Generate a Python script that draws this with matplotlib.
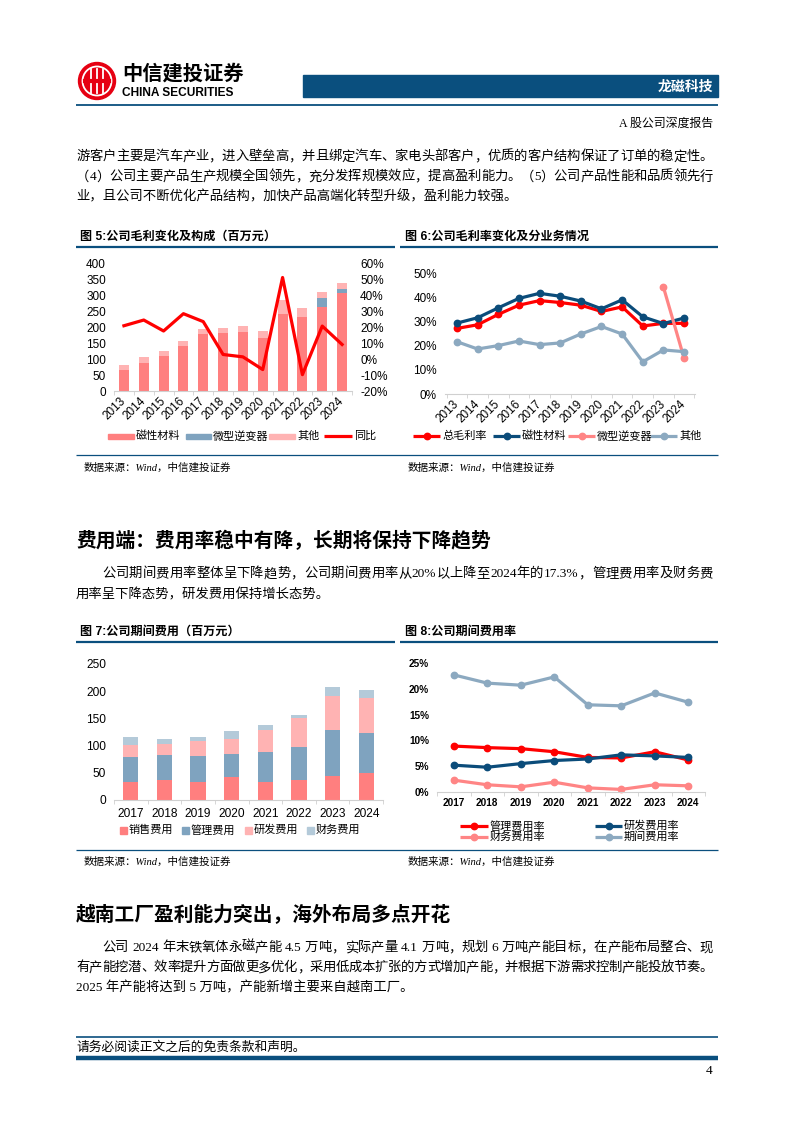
import re
import numpy as np
import matplotlib
matplotlib.use('Agg')
import matplotlib.pyplot as plt
from matplotlib.patches import Rectangle, Circle
from matplotlib.ticker import FixedLocator

# page text / chart data
years_a = [str(y) for y in range(2013, 2025)]
gp_magnet = [65, 88, 110, 141, 179, 183, 185, 166, 242, 232, 264, 308]
gp_inverter = [0, 0, 0, 0, 0, 0, 0, 0, 0, 0, 28, 14]
gp_other = [18, 18, 15, 17, 15, 17, 19, 24, 44, 29, 19, 18]
gp_yoy = [21.1, 24.7, 17.8, 28.7, 23.7, 3.0, 1.5, -6.5, 51.5, -9.7, 20.9, 9.3]

gm_total = [27.1, 28.6, 32.9, 36.7, 38.6, 37.8, 36.7, 34.1, 36.0, 28.1, 29.2, 29.2]
gm_magnet = [29.3, 31.5, 35.6, 39.5, 41.6, 40.4, 38.4, 35.2, 38.9, 31.9, 29.1, 31.4]
gm_inverter = [np.nan] * 10 + [44.2, 14.8]
gm_other = [21.6, 18.6, 20.0, 21.9, 20.4, 21.1, 24.8, 27.9, 24.8, 13.3, 18.2, 17.5]

years_b = [str(y) for y in range(2017, 2025)]
exp_sales = [34, 36, 34, 42, 34, 36, 44, 49]
exp_admin = [45, 46, 47, 42, 54, 61, 85, 74]
exp_rd = [23, 21, 28, 29, 41, 53, 63, 64]
exp_fin = [13, 10, 7, 13, 9, 6, 15, 16]

rate_admin = [8.9, 8.6, 8.4, 7.8, 6.7, 6.6, 7.8, 6.2]
rate_rd = [5.2, 4.8, 5.5, 6.1, 6.4, 7.2, 7.0, 6.7]
rate_fin = [2.3, 1.4, 1.0, 1.9, 0.8, 0.5, 1.4, 1.2]
rate_period = [22.7, 21.1, 20.7, 22.3, 16.9, 16.7, 19.2, 17.4]

para1 = ['游客户主要是汽车产业，进入壁垒高，并且绑定汽车、家电头部客户，优质的客户结构保证了订单的稳定性。',
         '（4）公司主要产品生产规模全国领先，充分发挥规模效应，提高盈利能力。（5）公司产品性能和品质领先行',
         '业，且公司不断优化产品结构，加快产品高端化转型升级，盈利能力较强。']
para2 = ['公司期间费用率整体呈下降趋势，公司期间费用率从20%以上降至2024年的17.3%，管理费用率及财务费',
         '用率呈下降态势，研发费用保持增长态势。']
para3 = ['公司 2024 年末铁氧体永磁产能 4.5 万吨，实际产量 4.1 万吨，规划 6 万吨产能目标，在产能布局整合、现',
         '有产能挖潜、效率提升方面做更多优化，采用低成本扩张的方式增加产能，并根据下游需求控制产能投放节奏。',
         '2025 年产能将达到 5 万吨，产能新增主要来自越南工厂。']

SANS = ['Liberation Sans', 'Noto Sans CJK SC']
SERIF = ['Liberation Serif', 'Noto Sans CJK SC']
plt.rcParams['font.family'] = SANS
plt.rcParams['axes.unicode_minus'] = False

NAVY = '#0A4F7E'
C_MAG = '#FF7F7F'
C_INV = '#7FA3BF'
C_OTH = '#FFB3B3'
C_FIN = '#B4CAD9'
L_RED = '#FF0000'
L_NAVY = '#0B4C7A'
L_PINK = '#FF8585'
L_GREY = '#8CA9C0'

W, H = 794, 1123
fig = plt.figure(figsize=(W / 100, H / 100), dpi=100)
bg = fig.add_axes([0, 0, 1, 1])
bg.set_xlim(0, W)
bg.set_ylim(H, 0)
bg.axis('off')
renderer = fig.canvas.get_renderer()


def px_axes(x0, y0, x1, y1):
    return fig.add_axes([x0 / W, 1 - y1 / H, (x1 - x0) / W, (y1 - y0) / H])


def hline(x0, x1, y, lw, color=NAVY):
    bg.plot([x0, x1], [y, y], color=color, lw=lw, solid_capstyle='butt')


def text_width(s, size, family):
    if s == ' ':
        return size * 100 / 72 * 0.28
    t = bg.text(0, 0, s, fontsize=size, family=family)
    w = t.get_window_extent(renderer).width
    t.remove()
    return w


def body_line(x0, y, s, size=9.6, x1=None, family=SERIF, **kw):
    if x1 is None:
        bg.text(x0, y, s, fontsize=size, family=family, va='center', ha='left', **kw)
        return
    toks = re.findall(r'[A-Za-z0-9.%]+| |.', s)
    ws = [text_width(t, size, family) for t in toks]
    gap = (x1 - x0 - sum(ws)) / (len(toks) - 1)
    x = x0
    for t, w in zip(toks, ws):
        if t != ' ':
            bg.text(x, y, t, fontsize=size, family=family, va='center', ha='left', **kw)
        x += w + gap


def leg_patch(x0, x1, y, h, color, label, tx):
    bg.add_patch(Rectangle((x0, y - h / 2), x1 - x0, h, color=color))
    bg.text(tx, y, label, fontsize=8, va='center', ha='left')


def leg_line(x0, x1, y, color, label, tx, marker=True):
    bg.plot([x0, x1], [y, y], color=color, lw=2.3, solid_capstyle='butt')
    if marker:
        bg.plot([(x0 + x1) / 2], [y], 'o', color=color, ms=4.6)
    bg.text(tx, y, label, fontsize=8, va='center', ha='left')


# ---------- header ----------
bg.add_patch(Circle((97, 81), 18.5, color='#E60012'))
bg.add_patch(Circle((97, 81), 14.5, fill=False, ec='white', lw=1.3))
for dx in (-6, 0, 6):
    bg.plot([97 + dx, 97 + dx], [69, 93], color='white', lw=1.3)
bg.plot([85, 109], [81, 81], color='#E60012', lw=3)
bg.text(122, 74, '中信建投证券', fontsize=14.6, weight='bold', va='center', ha='left')
bg.text(122, 93, 'CHINA SECURITIES', fontsize=8.6, weight='bold', va='center', ha='left')
bg.add_patch(Rectangle((303, 75), 415, 22, color=NAVY))
bg.text(713, 87, '龙磁科技', fontsize=10, weight='bold', color='white', va='center', ha='right')
hline(76, 718, 105, 1.3)
bg.text(713, 124, 'A 股公司深度报告', fontsize=8.6, family=SERIF, va='center', ha='right')

body_line(76, 157, para1[0], x1=713)
body_line(76, 177, para1[1], x1=713)
body_line(76, 197, para1[2])

# ---------- section titles / rules ----------
bg.text(80, 237, '图 5:公司毛利变化及构成（百万元）', fontsize=8.7, weight='bold', va='center')
bg.text(405, 237, '图 6:公司毛利率变化及分业务情况', fontsize=8.7, weight='bold', va='center')
hline(76, 395, 247, 1.6)
hline(400, 718, 247, 1.6)
hline(76, 718, 455, 0.9)
bg.text(84, 468, '数据来源：Wind，中信建投证券', fontsize=7.6, family=SERIF, style='italic', va='center')
bg.text(408, 468, '数据来源：Wind，中信建投证券', fontsize=7.6, family=SERIF, style='italic', va='center')

bg.text(76, 541, '费用端：费用率稳中有降，长期将保持下降趋势', fontsize=14.2, weight='bold',
        family=['Noto Sans CJK SC'], va='center')
body_line(102, 574, para2[0], x1=713)
body_line(76, 595, para2[1])

bg.text(80, 632, '图 7:公司期间费用（百万元）', fontsize=8.7, weight='bold', va='center')
bg.text(405, 632, '图 8:公司期间费用率', fontsize=8.7, weight='bold', va='center')
hline(76, 395, 642, 1.6)
hline(400, 718, 642, 1.6)
hline(76, 718, 850, 0.9)
bg.text(84, 862, '数据来源：Wind，中信建投证券', fontsize=7.6, family=SERIF, style='italic', va='center')
bg.text(408, 862, '数据来源：Wind，中信建投证券', fontsize=7.6, family=SERIF, style='italic', va='center')

bg.text(76, 915, '越南工厂盈利能力突出，海外布局多点开花', fontsize=14.2, weight='bold',
        family=['Noto Sans CJK SC'], va='center')
body_line(102, 948, para3[0], x1=713)
body_line(76, 968, para3[1], x1=713)
body_line(76, 988, para3[2])

# ---------- footer ----------
hline(76, 718, 1037, 1.2)
body_line(76, 1047, '请务必阅读正文之后的免责条款和声明。', size=9.2)
hline(76, 718, 1058, 3.2)
bg.text(713, 1071, '4', fontsize=9.6, family=SERIF, va='center', ha='right')


def style_cat_axis(ax, n, labels, rot, size, weight='normal'):
    ax.set_xticks(range(n))
    ax.xaxis.set_minor_locator(FixedLocator(np.arange(-0.5, n, 1.0)))
    for s in ('top', 'left', 'right'):
        ax.spines[s].set_visible(False)
    ax.spines['bottom'].set_color('#D0D0D0')
    ax.tick_params(axis='x', which='major', length=0)
    ax.tick_params(axis='x', which='minor', length=3, color='#D0D0D0')
    ax.tick_params(axis='y', length=0, pad=5.8, labelsize=size)
    if rot:
        ax.set_xticklabels(labels, rotation=45, ha='right', va='center',
                           rotation_mode='anchor', fontsize=size)
    else:
        ax.set_xticklabels(labels, fontsize=size, weight=weight)
    ax.tick_params(axis='x', pad=6)
    ax.set_facecolor('none')


# ---------- chart 5 ----------
ax5 = px_axes(114, 264, 352, 391)
x = np.arange(len(years_a))
ax5.bar(x, gp_magnet, 0.5, color=C_MAG)
ax5.bar(x, gp_inverter, 0.5, bottom=gp_magnet, color=C_INV)
ax5.bar(x, gp_other, 0.5, bottom=np.add(gp_magnet, gp_inverter), color=C_OTH)
ax5.set_xlim(-0.5, 11.5)
ax5.set_ylim(0, 400)
ax5.set_yticks(range(0, 401, 50))
style_cat_axis(ax5, 12, years_a, True, 8.5)
ax5r = ax5.twinx()
ax5r.plot(x, gp_yoy, color=L_RED, lw=2.3)
ax5r.set_ylim(-20, 60)
ax5r.set_yticks(range(-20, 61, 10))
ax5r.set_yticklabels([f'{v}%' for v in range(-20, 61, 10)])
for s in ('top', 'left', 'right', 'bottom'):
    ax5r.spines[s].set_visible(False)
ax5r.tick_params(axis='y', length=0, pad=5.8, labelsize=8.5)

leg_patch(108, 134, 436, 5, C_MAG, '磁性材料', 136)
leg_patch(186, 211, 436, 5, C_INV, '微型逆变器', 213)
leg_patch(269, 295, 436, 5, C_OTH, '其他', 297)
leg_line(324, 352, 436, L_RED, '同比', 354, marker=False)

# ---------- chart 6 ----------
ax6 = px_axes(445, 273, 695, 394)
mk = dict(marker='o', markersize=4.6, lw=2.3, clip_on=False)
ax6.plot(x, gm_total, color=L_RED, **mk)
ax6.plot(x, gm_magnet, color=L_NAVY, **mk)
ax6.plot(x, gm_inverter, color=L_PINK, **mk)
ax6.plot(x, gm_other, color=L_GREY, **mk)
ax6.set_xlim(-0.58, 11.53)
ax6.set_ylim(0, 50)
ax6.set_yticks(range(0, 51, 10))
ax6.set_yticklabels([f'{v}%' for v in range(0, 51, 10)])
style_cat_axis(ax6, 12, years_a, True, 8.5)

leg_line(413, 440, 436, L_RED, '总毛利率', 442)
leg_line(493, 520, 436, L_NAVY, '磁性材料', 522)
leg_line(568, 595, 436, L_PINK, '微型逆变器', 597)
leg_line(650, 677, 436, L_GREY, '其他', 679)

# ---------- chart 7 ----------
ax7 = px_axes(114, 664, 383, 800)
xb = np.arange(len(years_b))
b1 = np.array(exp_sales)
b2 = b1 + exp_admin
b3 = b2 + exp_rd
ax7.bar(xb, exp_sales, 0.45, color=C_MAG)
ax7.bar(xb, exp_admin, 0.45, bottom=b1, color=C_INV)
ax7.bar(xb, exp_rd, 0.45, bottom=b2, color=C_OTH)
ax7.bar(xb, exp_fin, 0.45, bottom=b3, color=C_FIN)
ax7.set_xlim(-0.5, 7.5)
ax7.set_ylim(0, 250)
ax7.set_yticks(range(0, 251, 50))
style_cat_axis(ax7, 8, years_b, False, 8.6)

leg_patch(120, 127, 830, 7, C_MAG, '销售费用', 129)
leg_patch(182, 189, 830, 7, C_INV, '管理费用', 191)
leg_patch(245, 252, 830, 7, C_OTH, '研发费用', 254)
leg_patch(307, 314, 830, 7, C_FIN, '财务费用', 316)

# ---------- chart 8 ----------
ax8 = px_axes(437, 663, 705, 792)
ax8.plot(xb, rate_admin, color=L_RED, **mk)
ax8.plot(xb, rate_rd, color=L_NAVY, **mk)
ax8.plot(xb, rate_fin, color=L_PINK, **mk)
ax8.plot(xb, rate_period, color=L_GREY, **mk)
ax8.set_xlim(-0.5, 7.5)
ax8.set_ylim(0, 25)
ax8.set_yticks(range(0, 26, 5))
ax8.set_yticklabels([f'{v}%' for v in range(0, 26, 5)], weight='bold')
style_cat_axis(ax8, 8, years_b, False, 7.2, weight='bold')
ax8.tick_params(axis='x', pad=4)

leg_line(460, 488, 826, L_RED, '管理费用率', 490)
leg_line(595, 622, 826, L_NAVY, '研发费用率', 624)
leg_line(460, 488, 837, L_PINK, '财务费用率', 490)
leg_line(595, 622, 837, L_GREY, '期间费用率', 624)

fig.savefig('out.png', dpi=100)
